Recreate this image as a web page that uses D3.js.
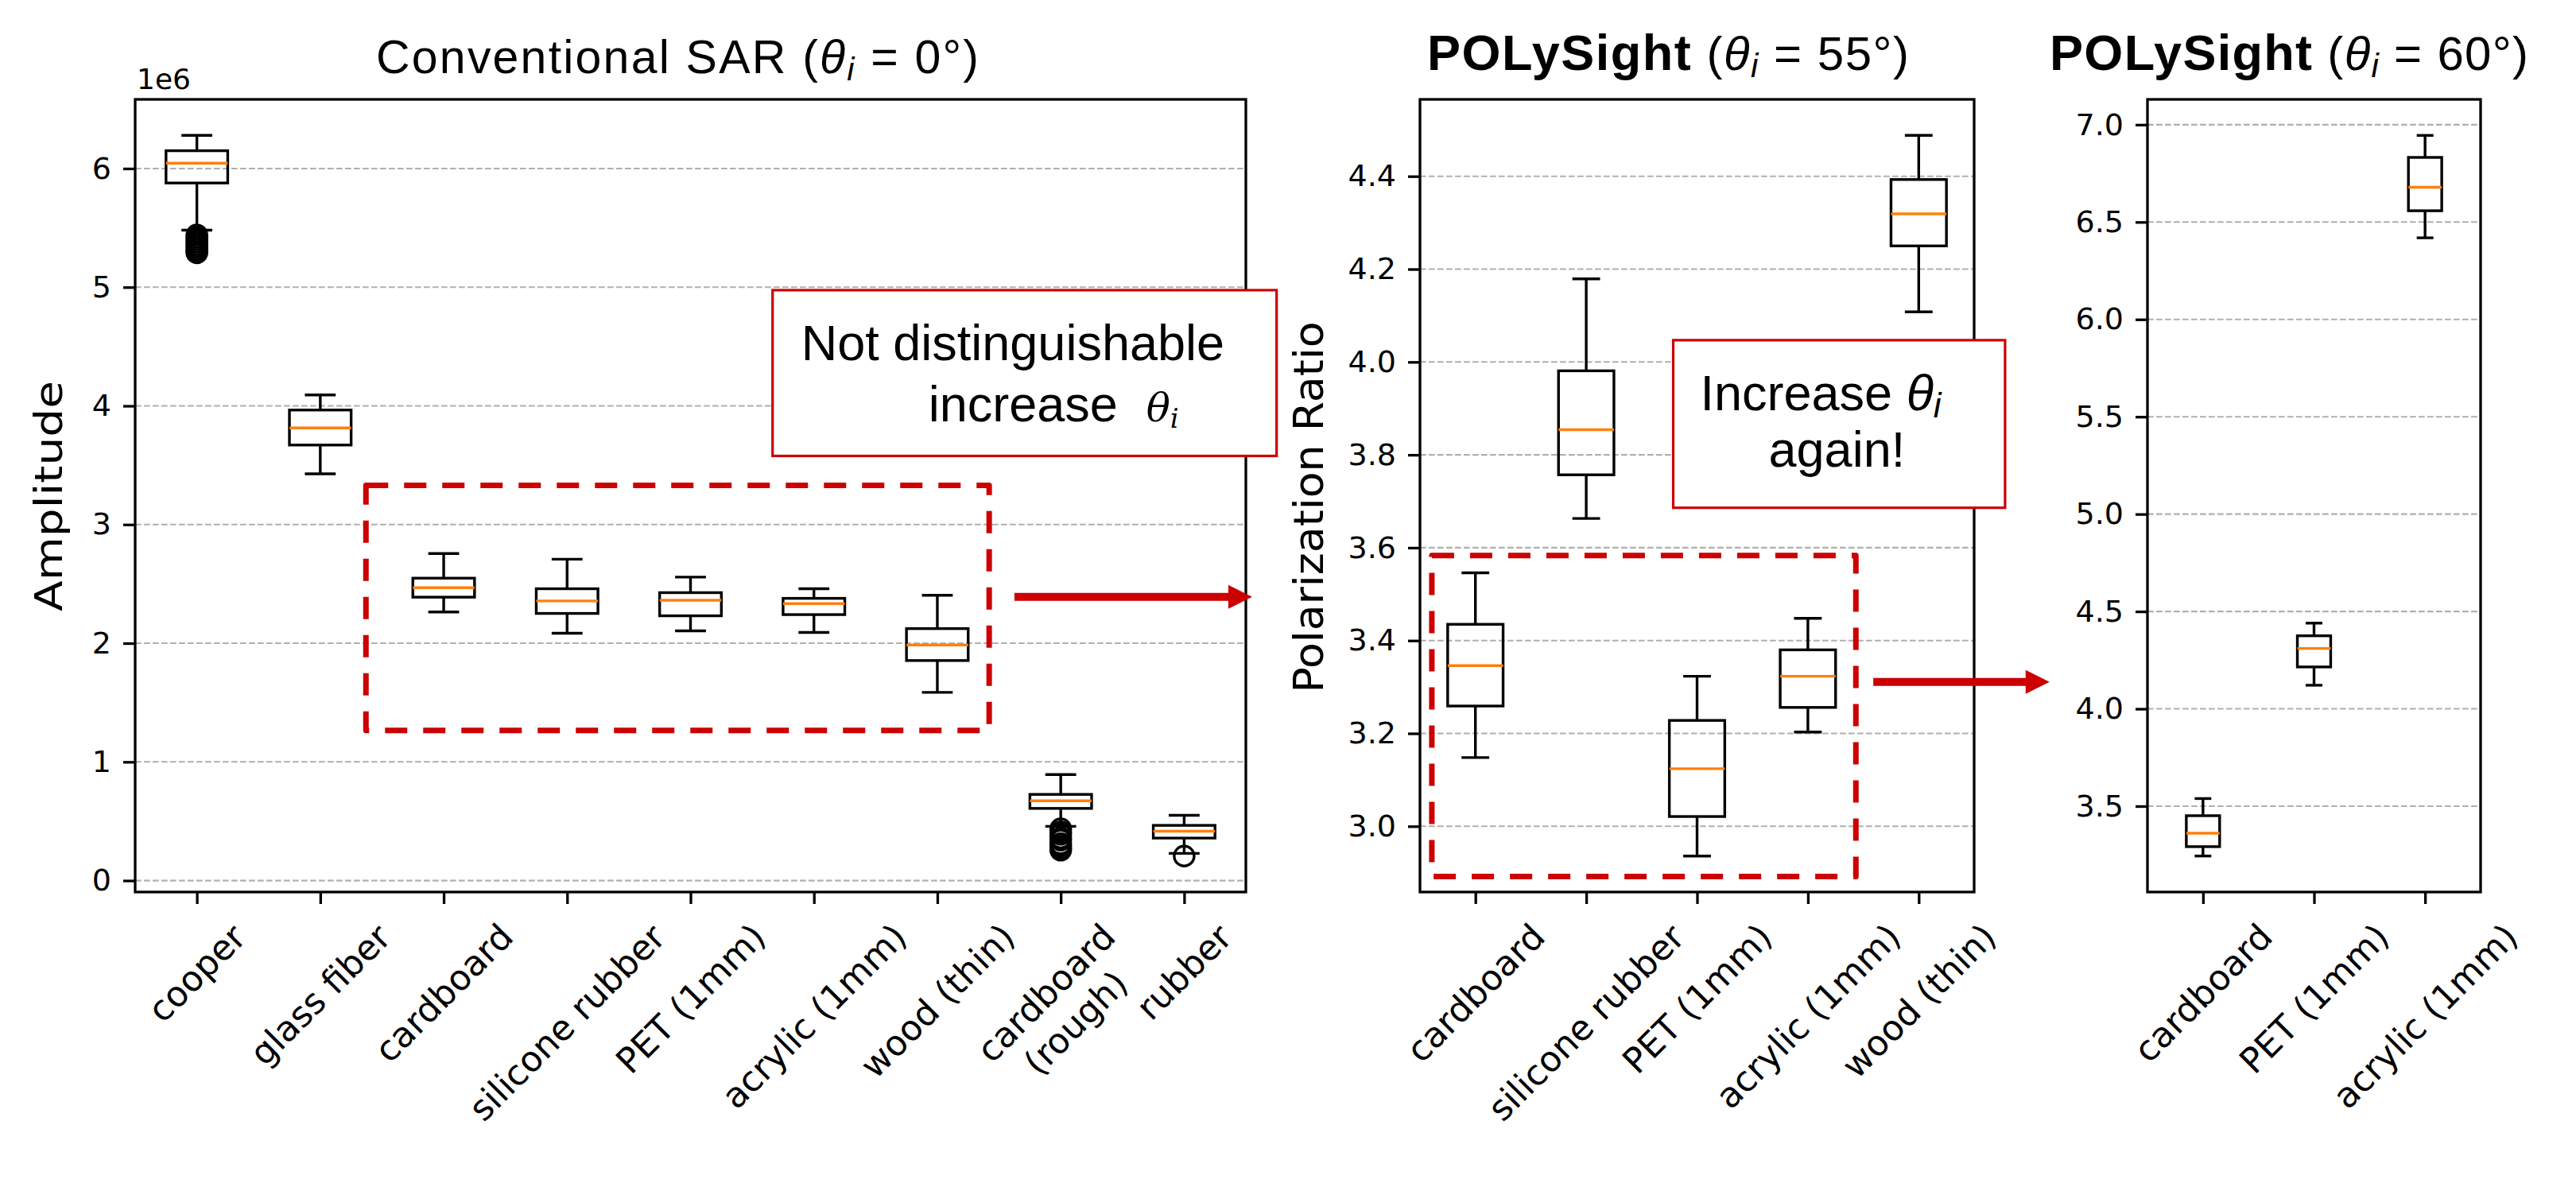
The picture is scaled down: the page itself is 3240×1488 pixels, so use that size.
<!DOCTYPE html>
<html>
<head>
<meta charset="utf-8">
<script src="https://cdn.jsdelivr.net/npm/d3@7"></script>
<style>
  body { margin: 0; background: #fff; }
</style>
</head>
<body>
<svg id="fig" width="3240" height="1488"></svg>
<script>
// ---- data ----
// box stats: [low whisker, q1, median, q3, high whisker]
const sarCategories = ["cooper", "glass fiber", "cardboard", "silicone rubber", "PET (1mm)",
  "acrylic (1mm)", "wood (thin)", "cardboard\n(rough)", "rubber"];
const sarStats = [
  [5.481, 5.878, 6.045, 6.150, 6.279],
  [3.427, 3.670, 3.814, 3.965, 4.092],
  [2.263, 2.388, 2.468, 2.548, 2.756],
  [2.084, 2.251, 2.356, 2.459, 2.708],
  [2.104, 2.231, 2.362, 2.426, 2.557],
  [2.091, 2.241, 2.334, 2.378, 2.459],
  [1.586, 1.854, 1.985, 2.123, 2.404],
  [0.457, 0.608, 0.672, 0.726, 0.893],
  [0.229, 0.358, 0.416, 0.465, 0.550]
];
const sarFliers = [
  [5.44, 5.42, 5.40, 5.38, 5.36, 5.34, 5.32, 5.30, 5.29],
  [], [], [], [], [], [],
  [0.436, 0.41, 0.39, 0.36, 0.34, 0.31, 0.29, 0.27, 0.256],
  [0.207]
];
const sarTicks = [0, 1, 2, 3, 4, 5, 6];

const pol55Categories = ["cardboard", "silicone rubber", "PET (1mm)", "acrylic (1mm)", "wood (thin)"];
const pol55Stats = [
  [3.148, 3.259, 3.346, 3.435, 3.546],
  [3.663, 3.757, 3.854, 3.981, 4.179],
  [2.936, 3.021, 3.124, 3.228, 3.323],
  [3.203, 3.256, 3.323, 3.380, 3.448],
  [4.108, 4.250, 4.319, 4.393, 4.488]
];
const pol55Ticks = [3.0, 3.2, 3.4, 3.6, 3.8, 4.0, 4.2, 4.4];

const pol60Categories = ["cardboard", "PET (1mm)", "acrylic (1mm)"];
const pol60Stats = [
  [3.244, 3.292, 3.361, 3.451, 3.539],
  [4.121, 4.215, 4.310, 4.375, 4.440],
  [6.419, 6.558, 6.679, 6.832, 6.945]
];
const pol60Ticks = [3.5, 4.0, 4.5, 5.0, 5.5, 6.0, 6.5, 7.0];

const RED = "#cc0000";
const ORANGE = "#ff7f0e";
const LW = 3.4;

const svg = d3.select("#fig");
svg.append("rect").attr("width", 3240).attr("height", 1488).attr("fill", "#fff");

// title: [bold part, plain head, theta-tail], spread to the width seen in the figure
function drawTitle(p) {
  const t = svg.append("text").attr("x", p.titleX).attr("y", p.titleY)
    .attr("font-family", "Liberation Sans").attr("font-size", p.titleSize).attr("fill", "#000")
    .attr("textLength", p.titleLen).attr("lengthAdjust", "spacing");
  if (p.titleBold) t.append("tspan").attr("font-weight", "bold").attr("font-size", p.titleSize + 3).text(p.titleBold);
  t.append("tspan").text(p.titleHead);
  t.append("tspan").attr("font-style", "italic").text("θ");
  t.append("tspan").attr("font-style", "italic").attr("font-size", p.titleSize * 0.7).attr("dy", 9).text("i");
  t.append("tspan").attr("dy", -9).text(p.titleTail);
}

function drawPanel(p) {
  const g = svg.append("g");
  const n = p.categories.length;
  const x = d3.scaleLinear().domain([0.5, n + 0.5]).range([p.left, p.right]);
  const all = p.stats.flat().concat(p.fliers.flat());
  const [lo, hi] = d3.extent(all);
  const pad = (hi - lo) * 0.05;
  const y = d3.scaleLinear().domain([lo - pad, hi + pad]).range([p.bottom, p.top]);

  // grid
  g.append("g").selectAll("line").data(p.yTicks).join("line")
    .attr("x1", p.left).attr("x2", p.right)
    .attr("y1", d => y(d)).attr("y2", d => y(d))
    .attr("stroke", "#b0b0b0").attr("stroke-width", 2.1)
    .attr("stroke-dasharray", "7.7,3.3");

  // y axis
  const yAxis = g.append("g").attr("transform", `translate(${p.left},0)`)
    .call(d3.axisLeft(y).tickValues(p.yTicks).tickFormat(p.yFormat)
      .tickSizeInner(15).tickSizeOuter(0).tickPadding(15));
  yAxis.select(".domain").remove();
  yAxis.selectAll(".tick line").attr("stroke", "#000").attr("stroke-width", 3.3);
  yAxis.selectAll(".tick text").attr("fill", "#000")
    .attr("font-family", "DejaVu Sans").attr("font-size", 38);

  // x axis ticks
  const xAxis = g.append("g").attr("transform", `translate(0,${p.bottom})`)
    .call(d3.axisBottom(x).tickValues(d3.range(1, n + 1)).tickFormat(() => "")
      .tickSizeInner(15).tickSizeOuter(0));
  xAxis.select(".domain").remove();
  xAxis.selectAll(".tick line").attr("stroke", "#000").attr("stroke-width", 3.3);

  // rotated category labels (centred on the tick)
  p.categories.forEach((c, i) => {
    const lg = g.append("g");
    const inner = lg.append("g");
    const t = inner.append("text").attr("font-family", "DejaVu Sans")
      .attr("font-size", 44).attr("text-anchor", "middle").attr("fill", "#000");
    c.split("\n").forEach((s, j) => {
      t.append("tspan").attr("x", 0).attr("dy", j ? "1.2em" : 0).text(s);
    });
    const b = t.node().getBBox();
    inner.attr("transform", `translate(${-(b.x + b.width / 2)},${-(b.y + b.height / 2)})`);
    const half = (b.width + b.height) / (2 * Math.SQRT2);
    lg.attr("transform", `translate(${x(i + 1)},${p.bottom + 30 + half}) rotate(-45)`);
  });

  // boxes
  const hw = (x(p.boxWidth) - x(0)) / 2;
  const cw = hw / 2;
  const bx = g.append("g").selectAll("g").data(p.stats).join("g");
  bx.each(function (s, i) {
    const [wlo, q1, med, q3, whi] = s;
    const cx = x(i + 1);
    const b = d3.select(this);
    b.append("line").attr("x1", cx).attr("x2", cx).attr("y1", y(q1)).attr("y2", y(wlo));
    b.append("line").attr("x1", cx).attr("x2", cx).attr("y1", y(q3)).attr("y2", y(whi));
    b.append("line").attr("x1", cx - cw).attr("x2", cx + cw).attr("y1", y(wlo)).attr("y2", y(wlo));
    b.append("line").attr("x1", cx - cw).attr("x2", cx + cw).attr("y1", y(whi)).attr("y2", y(whi));
    b.append("rect").attr("x", cx - hw).attr("width", 2 * hw)
      .attr("y", y(q3)).attr("height", y(q1) - y(q3)).attr("fill", "none");
    b.selectAll("line, rect").attr("stroke", "#000").attr("stroke-width", LW);
    b.append("line").attr("x1", cx - hw).attr("x2", cx + hw).attr("y1", y(med)).attr("y2", y(med))
      .attr("stroke", ORANGE).attr("stroke-width", LW);
    b.selectAll("circle").data(p.fliers[i] || []).join("circle")
      .attr("cx", cx).attr("cy", d => y(d)).attr("r", 12.5)
      .attr("fill", "none").attr("stroke", "#000").attr("stroke-width", LW);
  });

  // frame
  g.append("rect").attr("x", p.left).attr("y", p.top)
    .attr("width", p.right - p.left).attr("height", p.bottom - p.top)
    .attr("fill", "none").attr("stroke", "#000").attr("stroke-width", 3.3);

  // y label
  if (p.ylabel) {
    g.append("text")
      .attr("transform", `translate(${p.ylabelX},${p.ylabelY}) rotate(-90)`)
      .attr("text-anchor", "middle").attr("font-family", "DejaVu Sans")
      .attr("font-size", p.ylabelSize).attr("textLength", p.ylabelLen)
      .attr("lengthAdjust", "spacingAndGlyphs").attr("fill", "#000")
      .text(p.ylabel);
  }

  drawTitle(p);
  return { x, y };
}

const panels = [
  {
    left: 170, right: 1567, top: 125, bottom: 1122,
    categories: sarCategories, stats: sarStats, fliers: sarFliers,
    yTicks: sarTicks, yFormat: d3.format("d"), boxWidth: 0.5,
    ylabel: "Amplitude", ylabelX: 78, ylabelY: 624, ylabelSize: 48, ylabelLen: 290,
    titleX: 473, titleY: 92, titleSize: 59, titleLen: 758,
    titleBold: null, titleHead: "Conventional SAR (", titleTail: " = 0°)"
  },
  {
    left: 1786, right: 2483, top: 125, bottom: 1122,
    categories: pol55Categories, stats: pol55Stats, fliers: [],
    yTicks: pol55Ticks, yFormat: d3.format(".1f"), boxWidth: 0.5,
    ylabel: "Polarization Ratio", ylabelX: 1664, ylabelY: 638, ylabelSize: 52, ylabelLen: 467,
    titleX: 1795, titleY: 88, titleSize: 60, titleLen: 606,
    titleBold: "POLySight", titleHead: " (", titleTail: " = 55°)"
  },
  {
    left: 2701, right: 3120, top: 125, bottom: 1122,
    categories: pol60Categories, stats: pol60Stats, fliers: [],
    yTicks: pol60Ticks, yFormat: d3.format(".1f"), boxWidth: 0.3,
    ylabel: "",
    titleX: 2578, titleY: 88, titleSize: 60, titleLen: 602,
    titleBold: "POLySight", titleHead: " (", titleTail: " = 60°)"
  }
];
const scales = panels.map(drawPanel);

// scientific offset text
svg.append("text").attr("x", 172).attr("y", 112)
  .attr("font-family", "DejaVu Sans").attr("font-size", 36).text("1e6");

// ---- annotations (in each panel's data units) ----
const highlights = [
  { panel: 0, x0: 2.37, x1: 7.42, y0: 1.265, y1: 3.33 },
  { panel: 1, x0: 0.607, x1: 4.433, y0: 2.892, y1: 3.583 }
];
const arrows = [
  { panel: 0, x0: 7.625, x1: 9.551, yv: 2.39 },
  { panel: 1, x0: 4.59, x1: 6.18, yv: 3.311 }
];
const noteBoxes = [
  { panel: 0, x0: 5.665, x1: 9.749, y0: 3.578, y1: 4.975 },
  { panel: 1, x0: 2.785, x1: 5.779, y0: 3.686, y1: 4.047 }
];

const ann = svg.append("g");
highlights.forEach(h => {
  const { x, y } = scales[h.panel];
  const X0 = x(h.x0), X1 = x(h.x1), Y0 = y(h.y1), Y1 = y(h.y0);
  ann.append("path")
    .attr("d", `M${X0},${Y0}H${X1}V${Y1}H${X0}Z`)
    .attr("fill", "none").attr("stroke", RED).attr("stroke-width", 7)
    .attr("stroke-dasharray", "28,20").attr("stroke-linejoin", "round");
});

arrows.forEach(a => {
  const { x, y } = scales[a.panel];
  const X0 = x(a.x0), X1 = x(a.x1), Y = y(a.yv);
  const hl = 30, hh = 15, sh = 5;
  ann.append("path")
    .attr("d", `M${X0},${Y - sh}H${X1 - hl}V${Y - hh}L${X1},${Y}L${X1 - hl},${Y + hh}V${Y + sh}H${X0}Z`)
    .attr("fill", RED);
});

noteBoxes.forEach(b => {
  const { x, y } = scales[b.panel];
  ann.append("rect").attr("x", x(b.x0)).attr("y", y(b.y1))
    .attr("width", x(b.x1) - x(b.x0)).attr("height", y(b.y0) - y(b.y1))
    .attr("fill", "#fff").attr("stroke", RED).attr("stroke-width", 3.2);
});

// note 1 text
{
  const { x, y } = scales[0];
  const L = x(noteBoxes[0].x0), T = y(noteBoxes[0].y1);
  ann.append("text").attr("x", L + 36).attr("y", T + 88)
    .attr("font-family", "Liberation Sans").attr("font-size", 63).text("Not distinguishable");
  ann.append("text").attr("x", L + 196).attr("y", T + 165)
    .attr("font-family", "Liberation Sans").attr("font-size", 63).text("increase");
  const th = ann.append("text").attr("x", L + 470).attr("y", T + 165)
    .attr("font-family", "DejaVu Serif").attr("font-style", "italic").attr("font-size", 50);
  th.append("tspan").text("θ");
  th.append("tspan").attr("font-size", 34).attr("dy", 8).text("i");
}
// note 2 text
{
  const { x, y } = scales[1];
  const L = x(noteBoxes[1].x0), T = y(noteBoxes[1].y1);
  const t1 = ann.append("text").attr("x", L + 34).attr("y", T + 88)
    .attr("font-family", "Liberation Sans").attr("font-size", 63);
  t1.append("tspan").text("Increase ");
  t1.append("tspan").attr("font-style", "italic").text("θ");
  t1.append("tspan").attr("font-style", "italic").attr("font-size", 44).attr("dy", 9).text("i");
  ann.append("text").attr("x", L + 120).attr("y", T + 159)
    .attr("font-family", "Liberation Sans").attr("font-size", 63).text("again!");
}
</script>
</body>
</html>
